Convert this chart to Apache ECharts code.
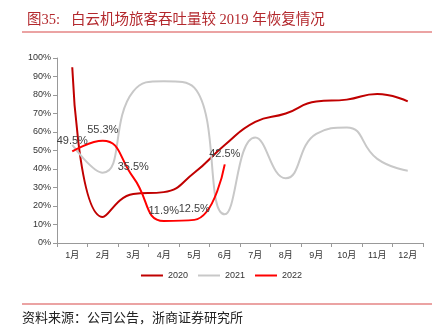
<!DOCTYPE html>
<html>
<head>
<meta charset="utf-8">
<script src="https://cdn.jsdelivr.net/npm/echarts@6/dist/echarts.min.js"></script>
<style>
  html, body { margin: 0; padding: 0; background: #fff; }
  #chart { width: 443px; height: 330px; }
</style>
</head>
<body>
<div id="chart"></div>
<script>
// Months on the category axis
const months = ['1月', '2月', '3月', '4月', '5月', '6月', '7月', '8月', '9月', '10月', '11月', '12月'];
// Passenger throughput as a share of the 2019 level (%)
const s2020 = [95, 14, 26.5, 27.5, 38, 53, 65.5, 70, 76.5, 77.5, 80.5, 76.5];
const s2021 = [53, 38, 82, 87.5, 84, 15.5, 57, 35, 59, 62.5, 45.5, 39];
const s2022 = [49.5, 55.3, 35.5, 11.9, 12.5, 42.5];
const yTicks = [0, 10, 20, 30, 40, 50, 60, 70, 80, 90, 100];

const chart = echarts.init(document.getElementById('chart'), null, { renderer: 'canvas' });
const axisText = { color: '#333', fontSize: 9, fontFamily: 'Arial, "Liberation Sans", "Noto Sans CJK SC", sans-serif' };

chart.setOption({
  animation: false,
  title: {
    text: '图35:   白云机场旅客吞吐量较 2019 年恢复情况',
    left: 22, top: 8,
    textStyle: { color: '#b3282d', fontSize: 14.5, fontWeight: 'normal',
      fontFamily: '"Liberation Serif", "Times New Roman", "Noto Sans CJK SC", serif' }
  },
  graphic: [
    { type: 'line', shape: { x1: 22, y1: 32, x2: 432, y2: 32 }, style: { stroke: '#e58585', lineWidth: 1.5 } },
    { type: 'line', shape: { x1: 22, y1: 304, x2: 432, y2: 304 }, style: { stroke: '#e58585', lineWidth: 1.5 } },
    { type: 'text', left: 22, top: 311,
      style: { text: '资料来源：公司公告，浙商证券研究所', fill: '#222', fontSize: 13,
        fontFamily: '"Noto Sans CJK SC", serif' } }
  ],
  legend: {
    data: ['2020', '2021', '2022'],
    left: 'center', top: 266,
    icon: 'rect', itemWidth: 22, itemHeight: 2, itemGap: 10,
    textStyle: { color: '#333', fontSize: 9, fontFamily: 'Arial, "Liberation Sans", sans-serif' }
  },
  grid: { left: 57, right: 20, top: 58, bottom: 87 },
  xAxis: {
    type: 'category', data: months, boundaryGap: true,
    axisLine: { lineStyle: { color: '#999', width: 1 } },
    axisTick: { show: true, alignWithLabel: false, length: 4, lineStyle: { color: '#999' } },
    axisLabel: Object.assign({ margin: 8 }, axisText)
  },
  yAxis: {
    type: 'value', min: 0, max: 100, interval: 10,
    axisLine: { show: true, lineStyle: { color: '#999', width: 1 } },
    axisTick: { show: true, length: 4, lineStyle: { color: '#999' } },
    splitLine: { show: false },
    axisLabel: Object.assign({ margin: 6, formatter: v => yTicks.includes(v) ? v + '%' : '' }, axisText)
  },
  series: [
    { name: '2020', type: 'line', data: s2020, smooth: true, symbol: 'none',
      lineStyle: { color: '#c00000', width: 2 }, itemStyle: { color: '#c00000' } },
    { name: '2021', type: 'line', data: s2021, smooth: true, symbol: 'none',
      lineStyle: { color: '#c8c8c8', width: 2 }, itemStyle: { color: '#c8c8c8' } },
    { name: '2022', type: 'line', data: s2022, smooth: true,
      symbol: 'circle', symbolSize: 0, showAllSymbol: true,
      lineStyle: { color: '#ff0000', width: 2 }, itemStyle: { color: '#ff0000' },
      label: { show: true, position: 'top', distance: 5, formatter: p => p.value + '%',
        color: '#404040', fontSize: 11, fontFamily: 'Arial, "Liberation Sans", sans-serif' } }
  ]
});
</script>
</body>
</html>
